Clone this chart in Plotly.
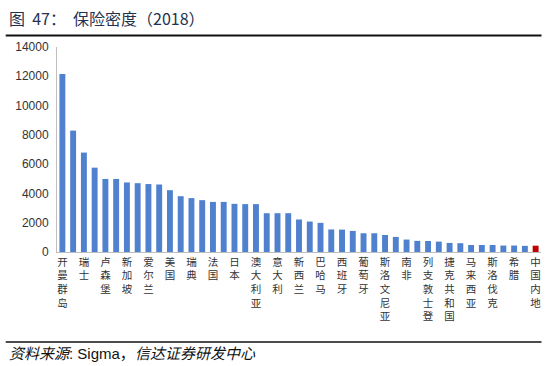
import plotly.graph_objects as go

# Data (insurance density, USD per capita, 2018)
countries = [
    "开曼群岛", "中国香港", "瑞士", "丹麦", "卢森堡", "芬兰", "新加坡", "中国台湾",
    "爱尔兰", "英国", "美国", "荷兰", "瑞典", "挪威", "法国", "韩国",
    "日本", "比利时", "澳大利亚", "德国", "意大利", "加拿大", "新西兰", "奥地利",
    "巴哈马", "以色列", "西班牙", "马耳他", "葡萄牙", "塞浦路斯", "斯洛文尼亚", "巴巴多斯",
    "南非", "特立尼达和多巴哥", "列支敦士登", "巴拿马", "捷克共和国", "阿联酋", "马来西亚", "克罗地亚",
    "斯洛伐克", "匈牙利", "希腊", "乌拉圭", "中国内地",
]
density = [
    12150, 8290, 6790, 5760, 4990, 4990, 4750, 4700,
    4640, 4610, 4220, 3810, 3680, 3540, 3420, 3420,
    3290, 3270, 3270, 2650, 2650, 2650, 2220, 2080,
    1990, 1540, 1530, 1440, 1280, 1280, 1160, 1030,
    850, 760, 750, 710, 620, 600, 480, 480,
    480, 440, 440, 420, 430,
]
highlight = "中国内地"

# Only every other category carries a visible label
label_vals = countries[::2]
label_text = ["<br>".join(list(c)) for c in label_vals]

bar_colors = ["#C00000" if c == highlight else "#4F81CF" for c in countries]

fig = go.Figure(
    go.Bar(
        x=countries,
        y=density,
        marker=dict(color=bar_colors, line=dict(width=0)),
        hoverinfo="x+y",
    )
)

# geometry helpers (plot area in pixels)
W, H = 558, 366
L, R, T, B = 57.3, 16.5, 47, 114.3
pw, ph = W - L - R, H - T - B


def px(x):
    return (x - L) / pw


def py(y):
    return (H - B - y) / ph


fig.update_layout(
    width=W,
    height=H,
    margin=dict(l=L, r=R, t=T, b=B, pad=0),
    paper_bgcolor="white",
    plot_bgcolor="white",
    bargap=0.45,
    showlegend=False,
    font=dict(family="Arial, Liberation Sans, Noto Sans CJK SC", color="#333333"),
    xaxis=dict(
        type="category",
        categoryorder="array",
        categoryarray=countries,
        range=[-0.5, len(countries) - 0.5],
        tickmode="array",
        tickvals=label_vals,
        ticktext=label_text,
        tickangle=0,
        ticks="",
        showline=True,
        linecolor="#BFBFBF",
        linewidth=1,
        showgrid=False,
        tickfont=dict(family="Noto Sans CJK SC", size=10.5, color="#333333"),
        automargin=False,
    ),
    yaxis=dict(
        range=[0, 14000],
        tickmode="linear",
        tick0=0,
        dtick=2000,
        tickformat="d",
        showgrid=False,
        zeroline=False,
        showline=True,
        linecolor="#BFBFBF",
        linewidth=1,
        ticks="",
        ticklabelstandoff=5,
        tickfont=dict(family="Arial, Liberation Sans", size=12, color="#333333"),
        automargin=False,
    ),
    shapes=[
        dict(type="line", xref="paper", yref="paper",
             x0=px(6), x1=px(542), y0=py(35.5), y1=py(35.5),
             line=dict(color="#111111", width=2)),
        dict(type="line", xref="paper", yref="paper",
             x0=px(6), x1=px(542), y0=py(341.5), y1=py(341.5),
             line=dict(color="#111111", width=1.5)),
    ],
    annotations=[
        dict(text="图  47：  保险密度（2018）", xref="paper", yref="paper",
             x=px(7), y=py(18), xanchor="left", yanchor="middle", showarrow=False,
             font=dict(family="Noto Sans CJK SC", size=16, color="#24324F")),
        dict(text="<i>资料来源</i>: Sigma，<i>信达证券研发中心</i>", xref="paper", yref="paper",
             x=px(7), y=py(353), xanchor="left", yanchor="middle", showarrow=False,
             font=dict(family="Arial, Noto Sans CJK SC", size=15, color="#111111")),
    ],
)

fig.write_html(
    "out.html",
    config={"displayModeBar": False},
    post_script="document.body.style.margin='0';document.body.style.overflow='hidden';",
)
